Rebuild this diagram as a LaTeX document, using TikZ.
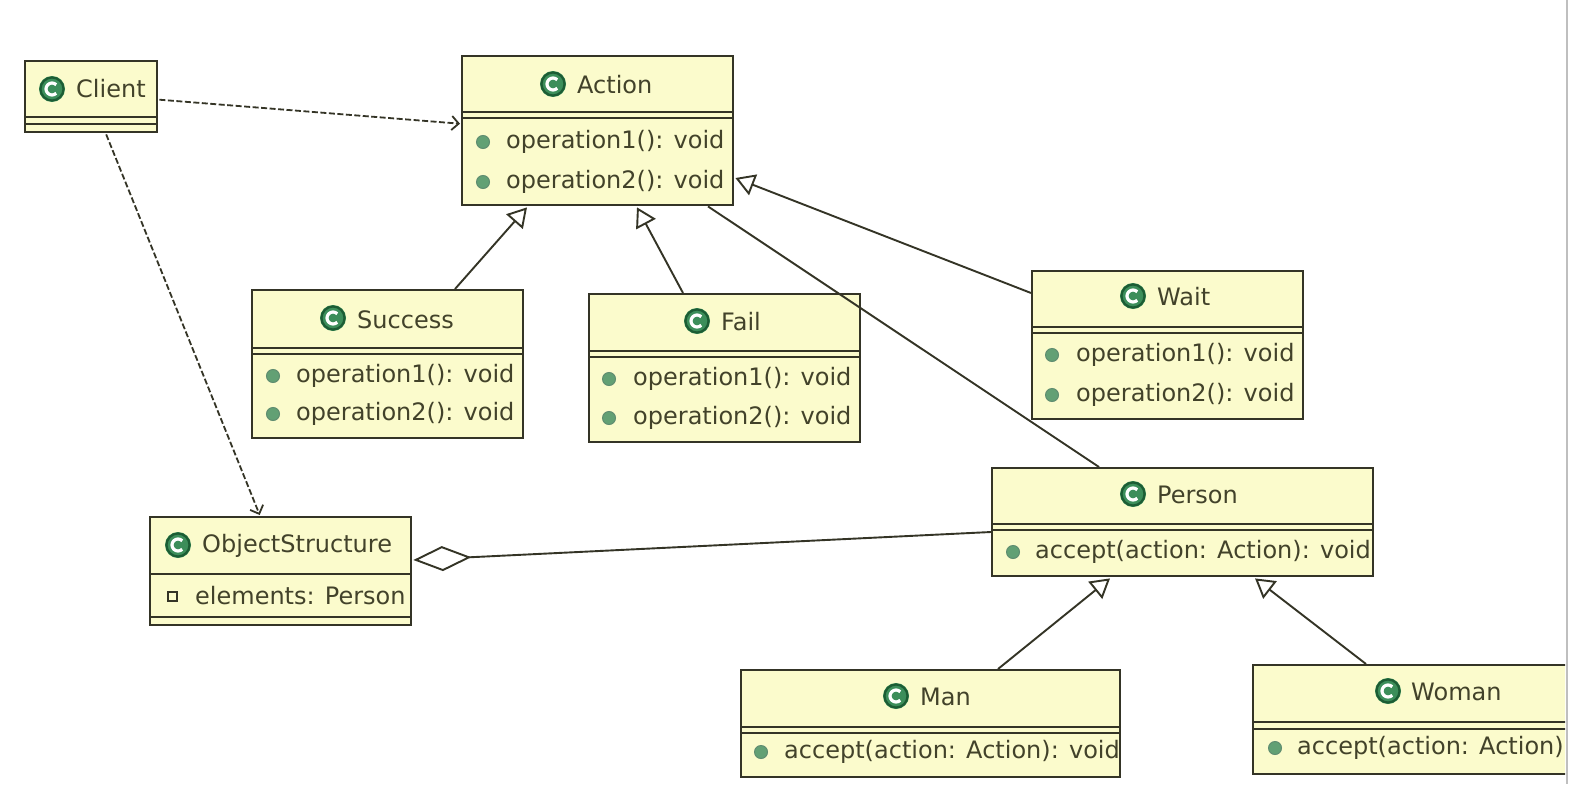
\documentclass[tikz,border=0pt]{standalone}
\usepackage{fontspec}
\setmainfont{DejaVu Sans}
\usetikzlibrary{arrows.meta,calc}
\definecolor{boxfill}{RGB}{251,251,204}
\definecolor{boxline}{RGB}{52,52,38}
\definecolor{txt}{RGB}{66,66,42}
\definecolor{igreen}{RGB}{60,142,90}
\definecolor{idark}{RGB}{28,92,52}
\definecolor{bgreen}{RGB}{98,160,116}
\newcommand{\hsep}[2]{\draw[sepline] ($(#1.north west)+(0,#2)$) -- ($(#1.north east)+(0,#2)$);}
\newcommand{\mbullet}[2]{\fill[bgreen, draw=idark!70, line width=1pt] (#1,#2) circle[radius=6.5pt];}
\begin{document}
\begin{tikzpicture}[x=1pt,y=-1pt,
  cls/.style={draw=boxline, fill=boxfill, line width=2.4pt, rectangle, inner sep=0pt, anchor=north west},
  sepline/.style={draw=boxline, line width=2.4pt},
  ttl/.style={text=txt, font=\fontsize{24}{28}\selectfont, inner sep=0pt, anchor=west},
  mth/.style={text=txt, font=\fontsize{24}{28}\selectfont, inner sep=0pt, anchor=west},
  dep/.style={draw=boxline, line width=1.8pt, dash pattern=on 6pt off 2.5pt, -{Straight Barb[length=7pt,width=14pt,line width=1.8pt]}},
  gen/.style={draw=boxline, line width=1.9pt, -{Triangle[open, length=19pt, width=22pt, line width=1.9pt]}},
  assoc/.style={draw=boxline, line width=1.9pt},
  agg/.style={draw=boxline, line width=1.9pt, -{Diamond[open, length=58pt, width=25pt, line width=1.9pt]}},
  clsicon/.pic={
    \fill[igreen] (0,0) circle[radius=13pt];
    \draw[idark, line width=2.2pt] (0,0) circle[radius=11.5pt];
    \draw[white, line width=3.2pt] (45:6pt) arc[start angle=45, end angle=315, radius=6pt];
  }]
\useasboundingbox (0,0) rectangle (1570,784);
\fill[white] (0,0) rectangle (1570,784);

% Client
\node[cls, minimum width=132pt, minimum height=71pt] (client) at (24,60) {};
\hsep{client}{57} \hsep{client}{64}
\pic at (52,89) {clsicon};
\node[ttl] (client-t) at (76,89) {Client};

% Action
\node[cls, minimum width=271pt, minimum height=149pt] (action) at (461,55) {};
\hsep{action}{57} \hsep{action}{63}
\pic at (553,84) {clsicon};
\node[ttl] (action-t) at (577,85) {Action};
\mbullet{483}{142} \node[mth] (action-m1) at (506,142) {operation1(): void};
\mbullet{483}{182} \node[mth] (action-m2) at (506,182) {operation2(): void};

% Success
\node[cls, minimum width=271pt, minimum height=148pt] (success) at (251,289) {};
\hsep{success}{59} \hsep{success}{65}
\pic at (333,318) {clsicon};
\node[ttl] (success-t) at (357,320) {Success};
\mbullet{273}{376} \node[mth] (success-m1) at (296,376) {operation1(): void};
\mbullet{273}{414} \node[mth] (success-m2) at (296,414) {operation2(): void};

% Fail
\node[cls, minimum width=271pt, minimum height=148pt] (fail) at (588,293) {};
\hsep{fail}{58} \hsep{fail}{64}
\pic at (697,321) {clsicon};
\node[ttl] (fail-t) at (721,322) {Fail};
\mbullet{609}{379} \node[mth] (fail-m1) at (633,379) {operation1(): void};
\mbullet{609}{418} \node[mth] (fail-m2) at (633,418) {operation2(): void};

% Wait
\node[cls, minimum width=271pt, minimum height=148pt] (wait) at (1031,270) {};
\hsep{wait}{57} \hsep{wait}{63}
\pic at (1133,296) {clsicon};
\node[ttl] (wait-t) at (1157,297) {Wait};
\mbullet{1052}{355} \node[mth] (wait-m1) at (1076,355) {operation1(): void};
\mbullet{1052}{395} \node[mth] (wait-m2) at (1076,395) {operation2(): void};

% Person
\node[cls, minimum width=381pt, minimum height=108pt] (person) at (991,467) {};
\hsep{person}{57} \hsep{person}{63}
\pic at (1133,494) {clsicon};
\node[ttl] (person-t) at (1157,495) {Person};
\mbullet{1013}{552} \node[mth] (person-m1) at (1035,552) {accept(action: Action): void};

% ObjectStructure
\node[cls, minimum width=261pt, minimum height=108pt] (objs) at (149,516) {};
\hsep{objs}{58} \hsep{objs}{101}
\pic at (178,545) {clsicon};
\node[ttl] (objs-t) at (202,546) {ObjectStructure};
\draw[boxline, line width=1.2pt, fill=boxfill] (168,592) rectangle (177,601);
\node[mth] (objs-a1) at (195,596) {elements: Person};

% Man
\node[cls, minimum width=379pt, minimum height=107pt] (man) at (740,669) {};
\hsep{man}{58} \hsep{man}{64}
\pic at (896,696) {clsicon};
\node[ttl] (man-t) at (920,697) {Man};
\mbullet{761}{752} \node[mth] (man-m1) at (784,752) {accept(action: Action): void};

% Woman (cut off by the window edge)
\begin{scope}
\clip (0,0) rectangle (1565,784);
\node[cls, minimum width=340pt, minimum height=109pt] (woman) at (1252,664) {};
\hsep{woman}{58} \hsep{woman}{65}
\end{scope}
\pic at (1388,691) {clsicon};
\node[ttl] (woman-t) at (1411,692) {Woman};
\mbullet{1275}{748} \node[mth] (woman-m1) at (1297,748) {accept(action: Action)};
\draw[black!25, line width=2pt] (1567,0) -- (1567,784);

% connectors
\draw[dep] ($(client.east)+(1,3)$) -- ($(action.west)+(-1,-7)$);
\draw[dep] ($(client.south)+(15,1)$) -- ($(objs.north)+(-21,-1)$);
\draw[gen] ($(success.north west)+(204,0)$) -- ($(action.south west)+(66,1)$);
\draw[gen] ($(fail.north west)+(95,0)$) -- ($(action.south west)+(176,1)$);
\draw[gen] ($(wait.north west)+(0,23)$) -- ($(action.north east)+(1,123)$);
\draw[assoc] ($(person.north west)+(108,0)$) -- ($(action.south west)+(247,0)$);
\draw[agg] ($(person.north west)+(0,65)$) -- ($(objs.north east)+(1,44)$);
\draw[gen] ($(man.north west)+(258,0)$) -- ($(person.south west)+(119,1)$);
\draw[gen] ($(woman.north west)+(114,0)$) -- ($(person.south west)+(264,1)$);
\end{tikzpicture}
\end{document}
